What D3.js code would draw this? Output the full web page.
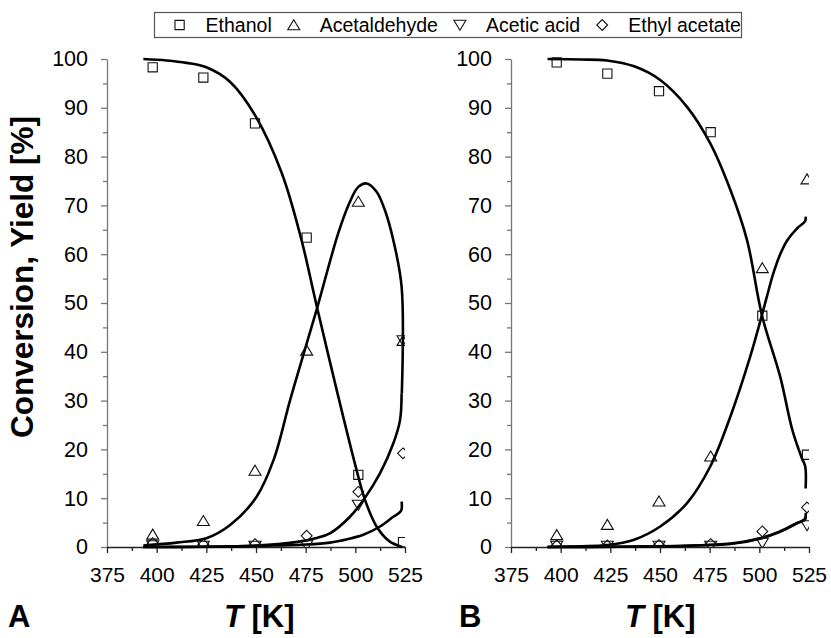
<!DOCTYPE html>
<html>
<head>
<meta charset="utf-8">
<script src="https://cdn.jsdelivr.net/npm/d3@7"></script>
<style>
  body { margin: 0; background: #fff; }
  svg { display: block; }
</style>
</head>
<body>
<svg id="chart" width="831" height="638"></svg>
<script>
// measured points (T in K, values in %)
const temps = [398, 423.5, 449.5, 475.5, 501.5, 524];

const ethanolA      = [98.3, 96.2, 86.8, 63.4, 14.8, 1.0];
const acetaldehydeA = [2.6, 5.4, 15.7, 40.3, 70.8, 42.3];
const aceticAcidA   = [0.3, 0.2, 0.2, 0.3, 8.6, 42.3];
const ethylAcetateA = [0.8, 0.5, 0.6, 2.3, 11.3, 19.2];

const ethanolB      = [99.3, 97.0, 93.4, 85.0, 47.4, 18.9];
const acetaldehydeB = [2.5, 4.6, 9.4, 18.6, 57.2, 75.4];
const aceticAcidB   = [0.2, 0.2, 0.2, 0.2, 0.8, 4.4];
const ethylAcetateB = [0.3, 0.3, 0.4, 0.6, 3.2, 8.1];

// model curves as [T, value]
const fitEthanolA = [[393.3,100],[405,99.7],[415,99.2],[425,98.3],[437,95.3],[449.5,88.5],[463,76.6],
  [472.6,63.4],[480.5,49.5],[490.6,32.2],[500.6,15.8],[505,9.5],[510.7,4.2],[517,1.2],[523.5,0]];
const fitAcetaldehydeA = [[393.3,0.3],[410,0.9],[425,1.8],[437,4.5],[450.3,10.3],[459,18],[467.1,30],
  [475,41],[480.5,48.6],[491.4,64.3],[497,70.5],[501.5,73.8],[505.7,74.5],[510.7,72.8],[514.9,69],
  [519.1,62.9],[523.3,53.3],[523.4,31.5]];
const fitAceticAcidA = [[393.3,0],[420,0.05],[450,0.3],[470,1.0],[480,1.8],[487.2,2.8],[497.3,6.2],
  [504,9.6],[512.4,15.1],[519.1,21.2],[522.5,26],[523.3,31.5]];
const fitEthylAcetateA = [[393.3,0],[430,0.05],[460,0.3],[475,0.5],[487.2,0.9],[496,1.6],[504,2.5],
  [512.4,4.2],[519.1,6.2],[523,7.4],[523.3,9.3]];

const fitEthanolB = [[393.4,100],[410,99.9],[423.3,99.7],[437,98.5],[450.1,95.7],[463.6,90.2],
  [475.3,82.7],[485.4,73.2],[493.8,62.9],[501.3,47.5],[510.5,34.9],[516.6,24],[521.4,18.2],
  [523.1,16.5],[523.3,12]];
const fitAcetaldehydeB = [[393.4,0],[410,0.15],[423.3,0.4],[437,1.5],[450.1,4.2],[463.6,9],[475.3,16.5],
  [485.4,26.7],[495.4,39],[501.3,47.5],[503.8,51.3],[507,56],[510,59.5],[514,62.8],[519,65.3],
  [523.1,66.8],[523.3,67.7]];
const fitAceticAcidB = [[393.4,0],[430,0.05],[460,0.2],[475.3,0.4],[485.4,0.6],[500.3,1.7],
  [510.4,3.1],[518.8,4.8],[523,5.8],[523.3,7.0]];
const fitEthylAcetateB = [[393.4,0],[430,0.05],[460,0.2],[475.3,0.45],[485.4,0.7],[500.3,1.8],
  [510.4,3.2],[518.8,4.9],[523,5.6],[523.3,6.3]];

const seriesNames = ["Ethanol", "Acetaldehyde", "Acetic acid", "Ethyl acetate"];
const seriesShapes = ["square", "up", "down", "diamond"];
const xTicks = [375, 400, 425, 450, 475, 500, 525];
const yTicks = [0, 10, 20, 30, 40, 50, 60, 70, 80, 90, 100];
const xMinor = [387.5, 412.5, 437.5, 462.5, 487.5, 512.5];
const yMinor = [5, 15, 25, 35, 45, 55, 65, 75, 85, 95];

const svg = d3.select("#chart");
const tickFont = "'Liberation Sans', Arial, sans-serif";
const plotTop = 59, plotBottom = 547, plotW = 298;

function shapePath(kind) {
  if (kind === "square") return "M-4.6,-4.6H4.6V4.6H-4.6Z";
  if (kind === "up") return "M0,-5.2L6,4.8L-6,4.8Z";
  if (kind === "down") return "M0,5.2L6,-4.8L-6,-4.8Z";
  return "M0,-5.4L5.4,0L0,5.4L-5.4,0Z";
}

function drawPanel(left, id, label, labelX, titleX, values, fits) {
  const x = d3.scaleLinear().domain([375, 525]).range([left, left + plotW]);
  const y = d3.scaleLinear().domain([0, 100]).range([plotBottom, plotTop]);
  const g = svg.append("g");

  g.append("clipPath").attr("id", "clip" + id)
    .append("rect").attr("x", left).attr("y", plotTop - 10).attr("width", plotW).attr("height", plotBottom - plotTop + 10);

  // y axis
  const yAx = g.append("g").attr("transform", `translate(${left},0)`)
    .call(d3.axisLeft(y).tickValues(yTicks).tickSize(6).tickSizeOuter(0).tickPadding(13));
  yAx.select(".domain").attr("stroke", "#777").attr("stroke-width", 1.3);
  yAx.selectAll(".tick line").attr("stroke", "#777").attr("stroke-width", 1.3);
  yAx.selectAll("text").attr("font-family", tickFont).attr("font-size", 21.5).attr("fill", "#000");
  const yMin = g.append("g").attr("transform", `translate(${left},0)`)
    .call(d3.axisLeft(y).tickValues(yMinor).tickSize(4).tickFormat(""));
  yMin.select(".domain").remove();
  yMin.selectAll(".tick line").attr("stroke", "#777").attr("stroke-width", 1.3);

  // x axis
  const xAx = g.append("g").attr("transform", `translate(0,${plotBottom})`)
    .call(d3.axisBottom(x).tickValues(xTicks).tickSize(6).tickSizeOuter(0).tickPadding(14));
  xAx.select(".domain").attr("stroke", "#222").attr("stroke-width", 1.3);
  xAx.selectAll(".tick line").attr("stroke", "#222").attr("stroke-width", 1.3);
  xAx.selectAll("text").attr("font-family", tickFont).attr("font-size", 21).attr("fill", "#000");
  const xMin = g.append("g").attr("transform", `translate(0,${plotBottom})`)
    .call(d3.axisBottom(x).tickValues(xMinor).tickSize(4).tickFormat(""));
  xMin.select(".domain").remove();
  xMin.selectAll(".tick line").attr("stroke", "#222").attr("stroke-width", 1.3);

  // fitted curves
  const line = d3.line().x(d => x(d[0])).y(d => y(d[1])).curve(d3.curveCatmullRom.alpha(0.5));
  g.append("g").selectAll("path").data(fits).join("path")
    .attr("d", line).attr("fill", "none").attr("stroke", "#000").attr("stroke-width", 2.6);

  // measured points
  const pts = g.append("g").attr("clip-path", `url(#clip${id})`);
  values.forEach((vals, i) => {
    pts.selectAll(null).data(vals.map((v, j) => [temps[j], v])).join("path")
      .attr("transform", d => `translate(${x(d[0])},${y(d[1])})`)
      .attr("d", shapePath(seriesShapes[i]))
      .attr("fill", "none").attr("stroke", "#111").attr("stroke-width", 1.1);
  });

  // panel label and axis title
  g.append("text").attr("x", labelX).attr("y", 627)
    .attr("font-family", tickFont).attr("font-weight", "bold").attr("font-size", 31).text(label);
  const tt = g.append("text").attr("x", titleX).attr("y", 627)
    .attr("font-family", tickFont).attr("font-weight", "bold").attr("font-size", 31);
  tt.append("tspan").attr("font-style", "italic").text("T");
  tt.append("tspan").text(" [K]");
}

drawPanel(107, "A", "A", 8, 224, [ethanolA, acetaldehydeA, aceticAcidA, ethylAcetateA],
  [fitEthanolA, fitAcetaldehydeA, fitAceticAcidA, fitEthylAcetateA]);
drawPanel(511, "B", "B", 459, 625, [ethanolB, acetaldehydeB, aceticAcidB, ethylAcetateB],
  [fitEthanolB, fitAcetaldehydeB, fitAceticAcidB, fitEthylAcetateB]);

// y axis title
svg.append("text").attr("transform", "translate(33,277) rotate(-90)")
  .attr("text-anchor", "middle").attr("font-family", tickFont)
  .attr("font-weight", "bold").attr("font-size", 31.5).text("Conversion, Yield [%]");

// legend
const leg = svg.append("g");
leg.append("rect").attr("x", 154.5).attr("y", 12.5).attr("width", 587).attr("height", 25)
  .attr("fill", "#fff").attr("stroke", "#555").attr("stroke-width", 1.2);
let lx = 179.6;
seriesNames.forEach((name, i) => {
  leg.append("path").attr("transform", `translate(${lx},25)`).attr("d", shapePath(seriesShapes[i]))
    .attr("fill", "none").attr("stroke", "#111").attr("stroke-width", 1.1);
  const t = leg.append("text").attr("x", lx + 26).attr("y", 31.8)
    .attr("font-family", tickFont).attr("font-size", 19.5).text(name);
  lx += 26 + t.node().getComputedTextLength() + 22;
});
</script>
</body>
</html>
